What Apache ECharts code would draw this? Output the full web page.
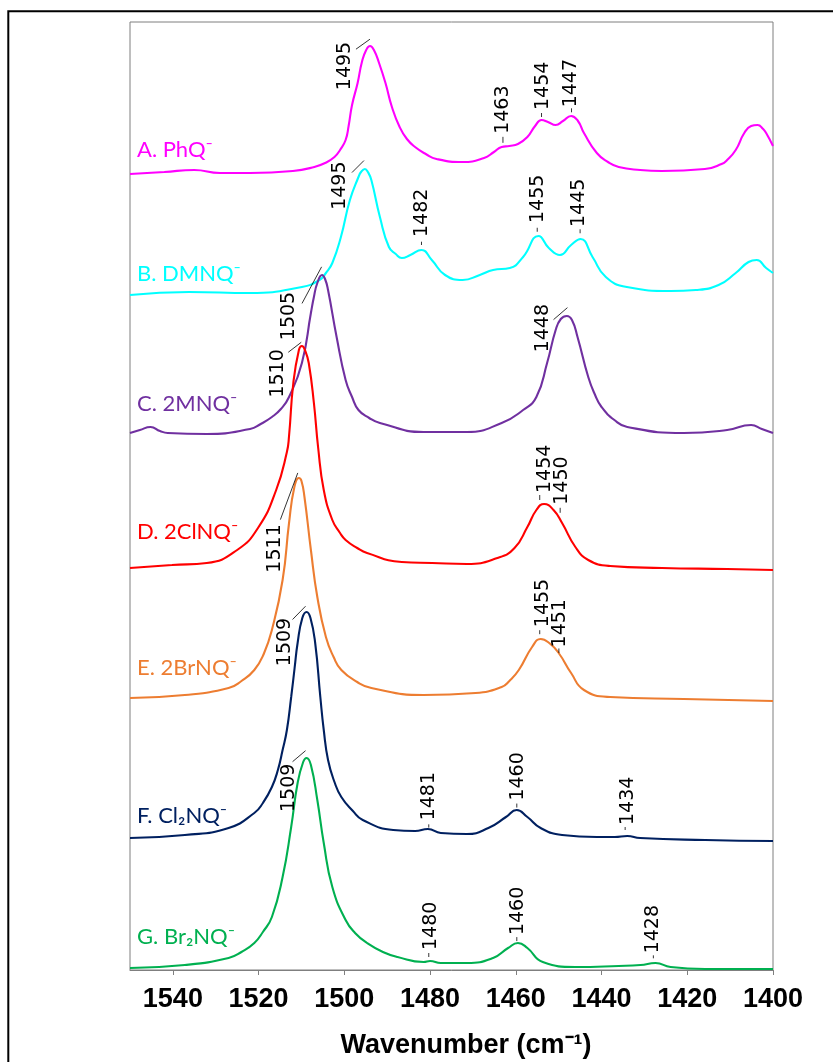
<!DOCTYPE html>
<html>
<head>
<meta charset="utf-8">
<script src="https://cdn.jsdelivr.net/npm/echarts@6/dist/echarts.min.js"></script>
<style>
  html, body { margin: 0; padding: 0; background: #ffffff; }
  #chart { width: 833px; height: 1062px; }
</style>
</head>
<body>
<div id="chart"></div>
<script>
// ---- Spectra (wavenumber in cm-1, offset intensity in arbitrary units) ----
const wnA = [1550, 1542, 1535, 1529, 1522, 1512, 1507, 1504.5, 1502.3, 1501, 1499.7, 1499, 1498.2, 1496.9, 1495.9, 1494.9, 1494.0, 1493.1, 1491.9, 1490.4, 1488.9, 1487.1, 1485.4, 1483.5, 1481, 1478.5, 1472.4, 1467.4, 1465.1, 1463.3, 1461.5, 1459.5, 1457.3, 1455.5, 1454.0, 1452.5, 1450.7, 1449.0, 1447.1, 1445.5, 1444.1, 1441.1, 1438.5, 1436.0, 1431, 1425.9, 1415.9, 1412, 1410.7, 1408.7, 1406.7, 1405.1, 1403.6, 1402.3, 1401.6, 1400];
const absA = [79.6, 79.8, 80.0, 79.7, 79.7, 79.9, 80.3, 80.7, 81.3, 82.0, 83.0, 84.4, 86.5, 88.7, 90.8, 92.0, 92.4, 92.0, 90.7, 88.7, 86.3, 84.3, 83.1, 82.3, 81.6, 81.1, 80.8, 81.2, 81.8, 82.3, 82.4, 82.6, 83.3, 84.4, 85.0, 84.8, 84.5, 84.9, 85.4, 84.9, 83.7, 81.7, 80.8, 80.3, 80.0, 79.9, 80.1, 80.6, 81.0, 82.0, 83.7, 84.4, 84.5, 84.1, 83.7, 82.4];

const wnB = [1550, 1536.2, 1522, 1509.9, 1505.8, 1504.3, 1502.8, 1500.8, 1498.7, 1496.7, 1496.1, 1495.2, 1494.5, 1493.7, 1491.7, 1489.6, 1488, 1486.6, 1484.6, 1482, 1479.6, 1476.5, 1472.4, 1468.4, 1465.3, 1461.4, 1458.3, 1454.7, 1452.3, 1449.7, 1447.1, 1444.9, 1442.1, 1439, 1434.1, 1423.9, 1418, 1412.7, 1408.7, 1405.7, 1403.8, 1401.6, 1400];
const absB = [67.5, 67.8, 67.7, 68.3, 69.0, 69.7, 70.7, 73.3, 77.0, 79.3, 79.8, 80.1, 79.8, 79.0, 75.3, 72.3, 71.6, 71.2, 71.5, 72.0, 71.0, 69.5, 69.0, 69.5, 70.0, 70.2, 71.3, 73.4, 72.2, 71.5, 72.5, 73.1, 71.3, 69.3, 68.3, 67.9, 68.0, 68.5, 69.7, 70.8, 71.0, 70.2, 69.7];

const wnC = [1550, 1547.7, 1545.2, 1543, 1541.2, 1532.1, 1522, 1519.5, 1516.9, 1514.8, 1512.9, 1509.9, 1507.8, 1507.1, 1506.3, 1505.2, 1504.5, 1503.8, 1501.8, 1499.7, 1498.2, 1496.7, 1494.2, 1491.7, 1481.5, 1471.4, 1463.3, 1458.3, 1455.2, 1452.7, 1450.7, 1449.5, 1448.1, 1446.9, 1445.6, 1443.1, 1441.5, 1440, 1437, 1434, 1420.8, 1410.7, 1405.1, 1402.6, 1400];
const absC = [53.7, 54.0, 54.3, 53.9, 53.7, 53.6, 54.1, 54.6, 55.3, 56.1, 57.3, 60.7, 65.7, 67.3, 68.7, 69.5, 69.1, 68.0, 63.3, 59.0, 57.3, 56.0, 55.2, 54.7, 53.8, 53.8, 54.7, 56.0, 57.3, 60.7, 64.0, 65.1, 65.4, 65.0, 63.3, 59.3, 57.5, 56.3, 55.0, 54.3, 53.7, 54.0, 54.5, 54.1, 53.7];

const wnD = [1550, 1540.2, 1532.1, 1525, 1520, 1515.9, 1513.4, 1512.9, 1511.9, 1510.6, 1509.9, 1509.1, 1508.3, 1507.1, 1506.1, 1504.8, 1502.8, 1501, 1499.7, 1497, 1494.7, 1486.6, 1479.5, 1471.4, 1464.3, 1460.3, 1457.3, 1455.2, 1453.4, 1451.2, 1449.2, 1446.1, 1443.1, 1438, 1425.9, 1410.7, 1400];
const absD = [40.2, 40.5, 40.7, 42.0, 44.3, 48.0, 51.8, 53.4, 58.7, 62.0, 62.4, 61.9, 60.7, 56.7, 52.2, 48.0, 45.0, 43.7, 43.0, 42.2, 41.7, 40.8, 40.7, 40.6, 41.2, 42.2, 44.3, 46.0, 46.6, 46.0, 44.7, 42.3, 41.0, 40.4, 40.2, 40.1, 40.0];

const wnE = [1550, 1537.2, 1527, 1524, 1521, 1518.8, 1516.9, 1514.4, 1512.9, 1511.7, 1510.6, 1510.0, 1509.3, 1507.8, 1506.3, 1504.3, 1502.5, 1500.7, 1497, 1493.7, 1481.5, 1469.4, 1463.3, 1461.5, 1459.3, 1456.2, 1454.2, 1452.2, 1450, 1447.1, 1444.1, 1438, 1420.8, 1400];
const absE = [27.2, 27.5, 28.2, 28.9, 30.0, 31.6, 34.0, 39.0, 44.7, 48.2, 49.2, 48.9, 47.3, 42.0, 37.3, 33.3, 31.3, 30.0, 28.8, 28.2, 27.5, 27.7, 28.3, 28.9, 30.0, 32.3, 33.1, 32.7, 31.7, 29.7, 28.0, 27.3, 27.1, 26.9];

const wnF = [1550, 1537.2, 1527, 1521, 1519, 1516.9, 1515.5, 1514.4, 1513.4, 1512.4, 1511.6, 1510.9, 1509.8, 1508.8, 1507.9, 1506.8, 1505.6, 1504.8, 1503.8, 1502.3, 1500.7, 1498, 1495.7, 1488.6, 1483.5, 1480.5, 1477.5, 1471.4, 1466.4, 1462.3, 1459.8, 1457.3, 1454.2, 1449.2, 1441.1, 1436.9, 1434, 1431, 1415.8, 1400];
const absF = [13.2, 13.5, 14.2, 15.7, 16.7, 18.3, 20.0, 22.0, 24.0, 27.3, 30.2, 32.7, 35.2, 35.8, 35.2, 32.7, 27.3, 24.0, 21.0, 18.8, 17.3, 15.9, 15.0, 14.0, 13.9, 14.1, 13.7, 13.6, 14.2, 15.3, 16.0, 15.3, 14.2, 13.5, 13.3, 13.3, 13.4, 13.2, 13.0, 12.9];

const wnG = [1550, 1537.2, 1527, 1524, 1521, 1519, 1516.9, 1514.4, 1512.4, 1510.9, 1509.6, 1508.8, 1507.8, 1506.3, 1504.8, 1502.8, 1499.7, 1497.5, 1494.7, 1491, 1487.6, 1481.5, 1480, 1477.5, 1471.4, 1465.3, 1461.8, 1459.5, 1457.3, 1453.7, 1446.1, 1436, 1430.9, 1427.4, 1423.9, 1415.8, 1400];
const absG = [0.2, 0.5, 1.2, 1.8, 2.7, 3.8, 5.3, 9.3, 14.3, 18.7, 20.8, 21.2, 20.5, 17.0, 12.7, 8.3, 5.0, 3.7, 2.7, 1.8, 1.3, 0.8, 0.9, 0.7, 0.7, 1.2, 2.2, 2.7, 2.2, 0.8, 0.3, 0.4, 0.5, 0.7, 0.3, 0.1, 0.1];

// ---- Peak positions annotated on each trace (cm-1) ----
const peaksA = [1495, 1463, 1454, 1447];
const peaksB = [1495, 1482, 1455, 1445];
const peaksC = [1505, 1448];
const peaksD = [1510, 1454, 1450];
const peaksE = [1511, 1455, 1451];
const peaksF = [1509, 1481, 1460, 1434];
const peaksG = [1509, 1480, 1460, 1428];

// ---- Text ----
const seriesNames = ['A. PhQ⁻', 'B. DMNQ⁻', 'C. 2MNQ⁻', 'D. 2ClNQ⁻', 'E. 2BrNQ⁻', 'F. Cl₂NQ⁻', 'G. Br₂NQ⁻'];
const tickValues = [1540, 1520, 1500, 1480, 1460, 1440, 1420, 1400];
const axisTitle = 'Wavenumber (cm⁻¹)';

// ---- Styling / layout ----
const traces = [
  { wn: wnA, val: absA, peaks: peaksA },
  { wn: wnB, val: absB, peaks: peaksB },
  { wn: wnC, val: absC, peaks: peaksC },
  { wn: wnD, val: absD, peaks: peaksD },
  { wn: wnE, val: absE, peaks: peaksE },
  { wn: wnF, val: absF, peaks: peaksF },
  { wn: wnG, val: absG, peaks: peaksG }
];
const colors = ['#FF00FF', '#00FFFF', '#7030A0', '#FF0000', '#ED7D31', '#002060', '#00B050'];
// vertical offset (px) of each trace name from the trace's left end
const nameDy = [-24, -21, -29, -36, -30, -22, -31];
// peak label layout, in px relative to the peak point on the trace:
// [text dx, text-start dy, leader x1, y1, x2, y2]
const peakLayout = [
  [[-20.3, 39, -9.8, -2, 4.2, -12], [0.5, -13, 0, -10, 0, -4], [1.4, -10, 0, -7, 0, -3], [-0.6, -9, 0, -8, 0, -4]],
  [[-25.3, 40, -13.8, 2.7, -1.8, -9.3], [1, -13, 0, -8.3, 0, -5], [1.2, -14.7, 0, -10, 0, -6], [-0.6, -12.3, 0, -10, 0, -6]],
  [[-33.4, 64, -20.9, 27.3, -1.3, -9.3], [-23.8, 36, -13.7, 3.3, 0.2, -8.7]],
  [[-23, 51, -13.2, 5.7, -0.2, -4.3], [3.8, -13, -1.8, -11, -1.8, -6], [3.3, -13, 1.5, -10, 1.5, -5]],
  [[-22.5, 91, -16.8, 38, 0.6, -8.7], [5.4, -15, 2.5, -12, 2.5, -8], [5.6, -1, 4.5, 0, 4.5, 4.5]],
  [[-20.8, 53, -13.2, 6.3, -0.2, -7], [3.2, -9, 3, -5, 3, -1.7], [2.2, -10, 1, -7, 1, -3], [0.7, -11, -2.1, -9, -2.1, -6]],
  [[-16.8, 53, -13.2, 2.7, -0.2, -8.3], [0.9, -11, -1.3, -8, -1.3, -4], [2.2, -9, 1, -7, 1, -3], [0.5, -10, 0.4, -8, 0.4, -5]]
];

const chart = echarts.init(document.getElementById('chart'), null, { renderer: 'canvas' });

const series = traces.map((t, i) => ({
  type: 'line',
  name: seriesNames[i],
  data: t.wn.map((w, k) => [w, t.val[k]]),
  showSymbol: false,
  smooth: 0.5,
  clip: true,
  lineStyle: { color: colors[i], width: 2.1 },
  itemStyle: { color: colors[i] },
  z: 2 + i
}));

chart.setOption({
  animation: false,
  backgroundColor: '#ffffff',
  grid: {
    left: 130, right: 60, top: 22, bottom: 92,
    show: true, borderColor: '#7F7F7F', borderWidth: 1, backgroundColor: 'transparent'
  },
  xAxis: {
    type: 'value',
    min: 1400,
    max: 1550,
    inverse: true,
    position: 'bottom',
    splitLine: { show: false },
    axisLine: { show: true, lineStyle: { color: '#7F7F7F', width: 1 } },
    axisTick: { show: true, customValues: tickValues, length: 5, lineStyle: { color: '#7F7F7F', width: 1 } },
    axisLabel: {
      customValues: tickValues,
      formatter: (v) => String(v),
      margin: 16,
      fontSize: 27,
      fontWeight: 'bold',
      fontFamily: '"Liberation Sans", Arial, sans-serif',
      color: '#000000'
    }
  },
  yAxis: { type: 'value', min: 0, max: 94.8, show: false },
  series: series
});

// value of a trace at a given wavenumber (linear between samples)
function traceValue(wn, val, w) {
  for (let k = 0; k < wn.length - 1; k++) {
    const a = wn[k], b = wn[k + 1];
    if ((w <= a && w >= b) || (w >= a && w <= b)) {
      const f = (w - a) / (b - a);
      return val[k] + f * (val[k + 1] - val[k]);
    }
  }
  return val[val.length - 1];
}

const graphics = [];

// outer frame
graphics.push({
  type: 'rect',
  shape: { x: 8.3, y: 11.3, width: 900, height: 1100 },
  style: { fill: null, stroke: '#000000', lineWidth: 2 },
  silent: true, z: 0
});

// trace names
traces.forEach((t, i) => {
  const p = chart.convertToPixel({ gridIndex: 0 }, [t.wn[0], t.val[0]]);
  graphics.push({
    type: 'text',
    x: 137,
    y: p[1] + nameDy[i],
    style: {
      text: seriesNames[i],
      fill: colors[i],
      font: '22px Lato, "Noto Sans", sans-serif',
      align: 'left', textAlign: 'left',
      verticalAlign: 'middle', textVerticalAlign: 'middle'
    },
    silent: true, z: 20
  });
});

// peak labels with leaders
traces.forEach((t, i) => {
  t.peaks.forEach((w, j) => {
    const v = traceValue(t.wn, t.val, w);
    const p = chart.convertToPixel({ gridIndex: 0 }, [w, v]);
    const L = peakLayout[i][j];
    graphics.push({
      type: 'text',
      x: p[0] + L[0],
      y: p[1] + L[1],
      rotation: Math.PI / 2,
      style: {
        text: String(w),
        fill: '#000000',
        font: '19px "DejaVu Sans", sans-serif',
        align: 'left', textAlign: 'left',
        verticalAlign: 'middle', textVerticalAlign: 'middle'
      },
      silent: true, z: 20
    });
    graphics.push({
      type: 'line',
      shape: { x1: p[0] + L[2], y1: p[1] + L[3], x2: p[0] + L[4], y2: p[1] + L[5] },
      style: { stroke: '#000000', lineWidth: 0.8 },
      silent: true, z: 20
    });
  });
});

// axis title
graphics.push({
  type: 'text',
  x: 466,
  y: 1046,
  style: {
    text: axisTitle,
    fill: '#000000',
    font: 'bold 27px "Liberation Sans", Arial, sans-serif',
    align: 'center', textAlign: 'center',
    verticalAlign: 'middle', textVerticalAlign: 'middle'
  },
  silent: true, z: 20
});

chart.setOption({ graphic: graphics });
</script>
</body>
</html>
